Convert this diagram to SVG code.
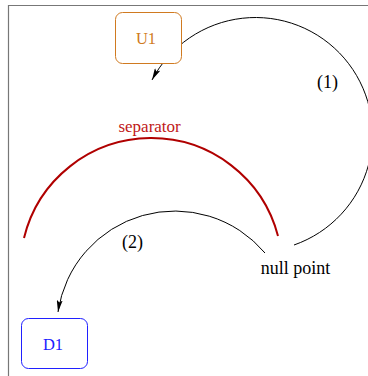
<svg xmlns="http://www.w3.org/2000/svg" width="368" height="376" viewBox="0 0 368 376">
<defs>
<marker id="ah" viewBox="0 0 12 6" refX="12" refY="3" markerWidth="12" markerHeight="6" markerUnits="userSpaceOnUse" orient="auto">
<path d="M0,0 L12,3 L0,6 L2.5,3 Z" fill="#000"/>
</marker>
</defs>
<style>
.conn{fill:none;stroke:#000;stroke-width:1;}
text{font-family:'Liberation Serif','Times New Roman',serif;text-anchor:middle;}
</style>
<rect width="368" height="376" fill="#fff"/>
<path d="M8.5,376 V5.5 H368" fill="none" stroke="#777" stroke-width="1.2"/>
<g id="connectors">
<path class="conn" d="M294,245 A117,117 0 1 0 152,80" marker-end="url(#ah)"/>
<path class="conn" d="M265,253 A118,118 0 0 0 58,312" marker-end="url(#ah)"/>
</g>
<g id="separator">
<path d="M24,238 A131,131 0 0 1 278,236" fill="none" stroke="#b00000" stroke-width="2"/>
<text x="149.6" y="132" font-size="17" fill="#c01818">separator</text>
</g>
<g id="U1">
<rect x="115.5" y="12.5" width="66" height="51" rx="7" fill="#fff" stroke="#d07a20" stroke-width="1"/>
<text x="146" y="44" font-size="16.5" fill="#d07a20">U1</text>
</g>
<g id="D1">
<rect x="21.5" y="318.5" width="66" height="50" rx="7" fill="#fff" stroke="#2020ff" stroke-width="1"/>
<text x="53" y="350" font-size="16.5" fill="#2020ff">D1</text>
</g>
<g id="null_point">
<text x="295.5" y="274" font-size="18" fill="#000">null point</text>
</g>
<text x="327.5" y="88" font-size="18" fill="#000">(1)</text>
<text x="132.5" y="248" font-size="18" fill="#000">(2)</text>
</svg>
